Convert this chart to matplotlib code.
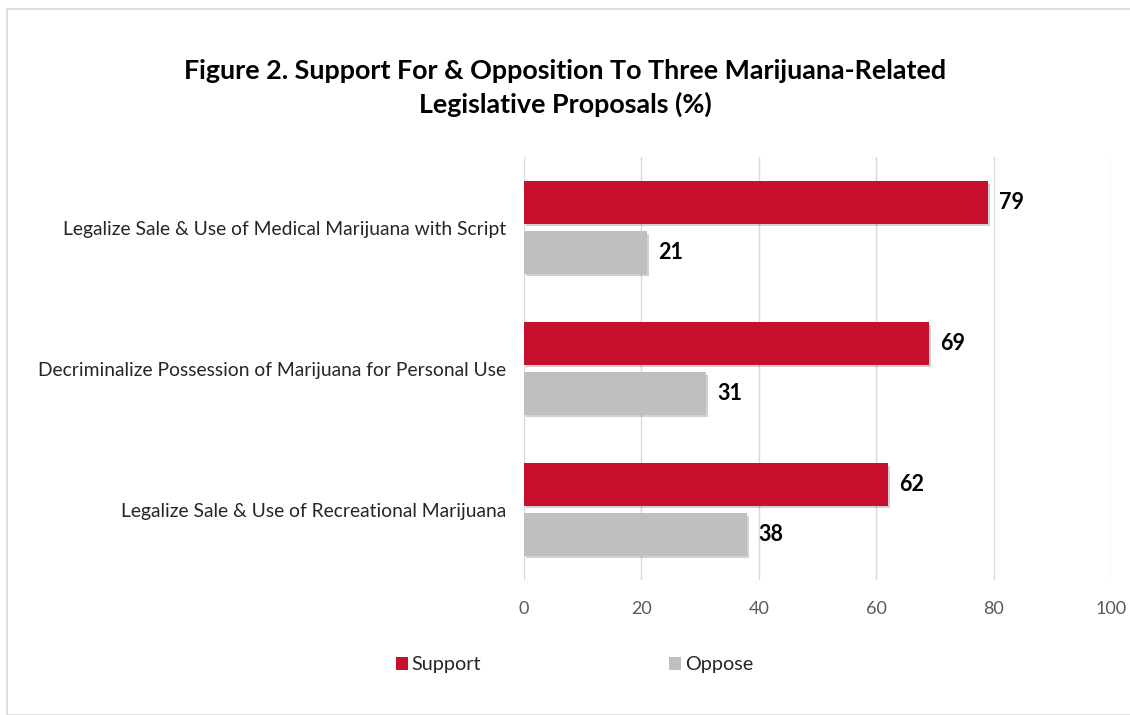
import matplotlib
matplotlib.use("Agg")
import matplotlib.pyplot as plt
import matplotlib.patheffects as pe
from matplotlib.patches import Rectangle
import numpy as np

plt.rcParams['font.family'] = ['Lato', 'DejaVu Sans']

categories = ["Legalize Sale & Use of Medical Marijuana with Script",
              "Decriminalize Possession of Marijuana for Personal Use",
              "Legalize Sale & Use of Recreational Marijuana"]
support = [79, 69, 62]
oppose = [21, 31, 38]
xticks = [0, 20, 40, 60, 80, 100]
title = "Figure 2. Support For & Opposition To Three Marijuana-Related\nLegislative Proposals (%)"

red = "#C8102E"
gray = "#BFBFBF"

fig = plt.figure(figsize=(11.3, 7.15), dpi=100)
ax = fig.add_axes([0.4637, 0.1888, 0.9832 - 0.4637, 0.7804 - 0.1888])

y = np.arange(len(categories))
h = 0.30
off = 0.177
shadow = [pe.SimplePatchShadow(offset=(1.5, -2), shadow_rgbFace="black", alpha=0.18), pe.Normal()]
b1 = ax.barh(y - off, support, height=h, color=red, label="Support", zorder=3)
b2 = ax.barh(y + off, oppose, height=h, color=gray, label="Oppose", zorder=3)
for bars in (b1, b2):
    for b in bars:
        b.set_path_effects(shadow)
    ax.bar_label(bars, padding=8, fontsize=15.5, fontweight='bold', color='black')

ax.set_xlim(0, 100)
ax.set_ylim(len(categories) - 0.5, -0.5)
ax.set_xticks(xticks)
ax.set_yticks(y)
ax.set_yticklabels(categories, fontsize=13.9, color='#262626')
ax.tick_params(axis='y', length=0, pad=13)
ax.tick_params(axis='x', length=0, pad=15, labelsize=13, labelcolor='#595959')
ax.grid(axis='x', color='#D9D9D9', linewidth=1, zorder=0)
for s in ax.spines.values():
    s.set_visible(False)

fig.text(0.5, 0.877, title, ha='center', va='center', fontsize=19.4, fontweight='bold',
         color='black', linespacing=1.45)

leg = fig.legend(handles=[b1, b2], labels=["Support", "Oppose"], loc='center',
                 bbox_to_anchor=(0.5084, 0.07), ncol=2, frameon=False, fontsize=14.3,
                 handlelength=0.6, handleheight=0.6, handletextpad=0.2, columnspacing=9.45,
                 borderpad=0, borderaxespad=0)
for t in leg.get_texts():
    t.set_color('#262626')
for hnd in leg.legend_handles:
    hnd.set_path_effects([])

fig.patches.append(Rectangle((7 / 1130, 0), 1.2, 1 - 9 / 715, transform=fig.transFigure,
                             fill=False, edgecolor='#D9D9D9', linewidth=1.2))

fig.savefig("out.png", dpi=100)
